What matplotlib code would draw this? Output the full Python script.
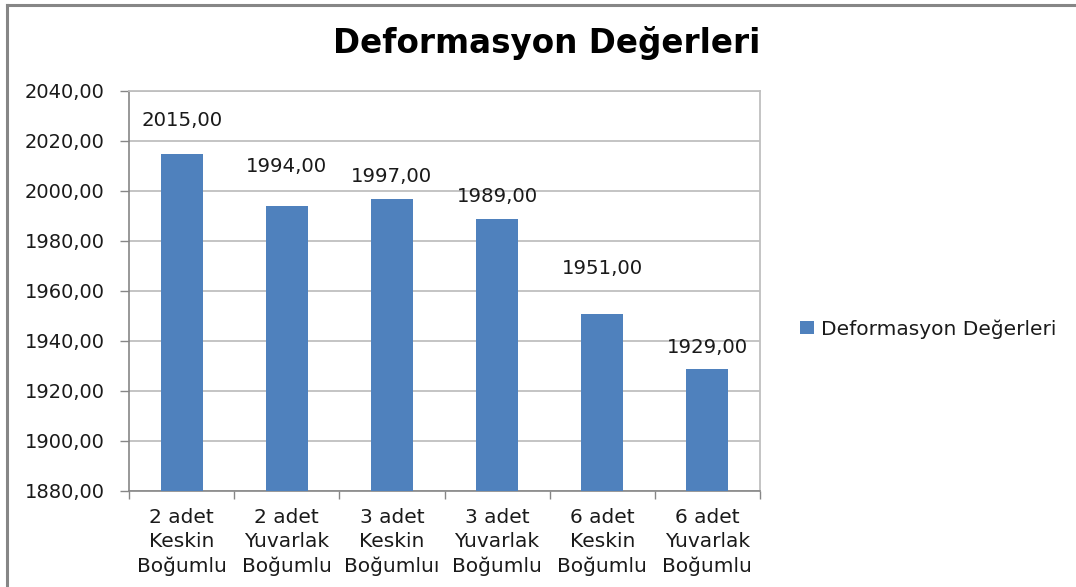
import matplotlib
matplotlib.use("Agg")
import matplotlib.pyplot as plt
from matplotlib.lines import Line2D
from matplotlib.ticker import FixedLocator, FuncFormatter

# Data
categories = [
    "2 adet\nKeskin\nBoğumlu",
    "2 adet\nYuvarlak\nBoğumlu",
    "3 adet\nKeskin\nBoğumluı",
    "3 adet\nYuvarlak\nBoğumlu",
    "6 adet\nKeskin\nBoğumlu",
    "6 adet\nYuvarlak\nBoğumlu",
]
values = [2015.00, 1994.00, 1997.00, 1989.00, 1951.00, 1929.00]
series_name = "Deformasyon Değerleri"
title = "Deformasyon Değerleri"
y_ticks = [1880, 1900, 1920, 1940, 1960, 1980, 2000, 2020, 2040]

# Vertical gap (pixels) between each bar top and its value label
label_gap_px = [33, 39, 21.5, 22, 45.5, 21]

BAR = "#4F81BD"
GRID = "#BFBFBF"
AXIS = "#868686"
FONT = "DejaVu Sans"

W, H, DPI = 1076, 587, 100
fig = plt.figure(figsize=(W / DPI, H / DPI), dpi=DPI)
fig.patch.set_facecolor("white")

left, right, top, bottom = 129, 760, 91, 491
ax = fig.add_axes([left / W, (H - bottom) / H, (right - left) / W, (bottom - top) / H])

x = list(range(len(categories)))
bars = ax.bar(x, values, width=0.40, color=BAR, label=series_name, zorder=3)

ax.set_xlim(-0.5, len(categories) - 0.5)
ax.set_ylim(y_ticks[0], y_ticks[-1])

ax.yaxis.set_major_locator(FixedLocator(y_ticks))
ax.yaxis.set_major_formatter(FuncFormatter(lambda v, p: f"{v:.2f}".replace(".", ",")))
ax.yaxis.grid(True, color=GRID, linewidth=1.3, zorder=0)
ax.tick_params(axis="y", length=6.5, width=1.0, color=AXIS, pad=11,
               labelsize=14, labelcolor="#1a1a1a")
for t in ax.get_yticklabels():
    t.set_fontfamily(FONT)

# category labels at centres, tick marks at category boundaries
ax.set_xticks(x)
ax.set_xticklabels(categories, fontsize=14.5, family=FONT, color="#1a1a1a",
                   linespacing=1.36)
ax.set_xticks([i - 0.5 for i in range(len(categories) + 1)], minor=True)
ax.tick_params(axis="x", which="major", length=0, pad=12)
ax.tick_params(axis="x", which="minor", length=5.5, width=1.0, color=AXIS)

for side in ("left", "bottom"):
    ax.spines[side].set_color(AXIS)
    ax.spines[side].set_linewidth(1.2)
for side in ("top", "right"):
    ax.spines[side].set_color(GRID)
    ax.spines[side].set_linewidth(1.3)

# value labels
for xi, v, gap in zip(x, values, label_gap_px):
    ax.annotate(f"{v:.2f}".replace(".", ","), xy=(xi, v),
                xytext=(0, gap * 72 / DPI), textcoords="offset points",
                ha="center", va="center", fontsize=14.2, family=FONT,
                color="#1a1a1a", zorder=4)

fig.text(547 / W, 1 - 43 / H, title, ha="center", va="center",
         fontsize=23.5, fontweight="bold", family=FONT, color="black")

leg = fig.legend(handles=[bars], labels=[series_name],
                 loc="center left", bbox_to_anchor=(800 / W, 1 - 329 / H),
                 frameon=False, prop={"family": FONT, "size": 14.5},
                 handlelength=0.7, handleheight=0.65, handletextpad=0.35,
                 borderpad=0, borderaxespad=0)
for t in leg.get_texts():
    t.set_color("#1a1a1a")

# outer chart frame (top and left edges)
fig.add_artist(Line2D([6.5 / W, 1.0], [1 - 4.5 / H, 1 - 4.5 / H],
                      transform=fig.transFigure, color=AXIS, linewidth=2.2))
fig.add_artist(Line2D([6.5 / W, 6.5 / W], [0.0, 1 - 4.5 / H],
                      transform=fig.transFigure, color=AXIS, linewidth=2.2))

fig.savefig("out.png", dpi=DPI, facecolor="white")
